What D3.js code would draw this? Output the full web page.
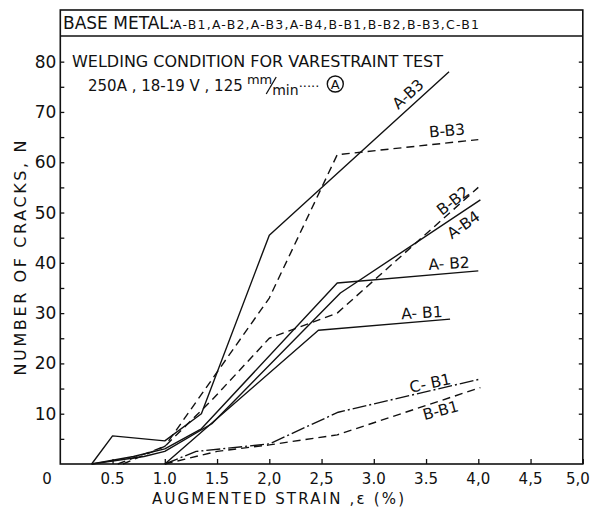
<!DOCTYPE html>
<html><head><meta charset="utf-8">
<script src="https://cdn.jsdelivr.net/npm/d3@7"></script>
<style>
  body { margin: 0; background: #fff; }
  text { font-family: "DejaVu Sans", sans-serif; fill: #111; }
</style>
</head><body>
<svg id="chart" width="594" height="510"></svg>
<script>
// Varestraint test: number of cracks vs augmented strain, one polyline per base metal.
const baseMetals = ["A-B1", "A-B2", "A-B3", "A-B4", "B-B1", "B-B2", "B-B3", "C-B1"];

// [augmented strain (%), number of cracks]
const A_B1 = [[1.0, 0], [2.47, 26.6], [3.73, 28.8]];
const A_B2 = [[0.3, 0], [0.7, 1.5], [1.0, 3], [1.35, 7], [2.65, 36], [4.0, 38.4]];
const A_B3 = [[0.3, 0], [0.5, 5.6], [1.0, 4.6], [1.35, 10], [2.0, 45.5], [3.72, 78]];
const A_B4 = [[0.3, 0], [0.8, 1.5], [1.0, 2.5], [1.45, 8], [2.68, 34], [4.02, 52.5]];
const B_B1 = [[1.0, 0], [1.5, 2.5], [2.0, 3.8], [2.65, 5.8], [4.02, 15.2]];
const B_B2 = [[0.55, 0], [1.0, 3.5], [1.45, 12.7], [2.0, 25], [2.65, 30], [4.0, 55]];
const B_B3 = [[0.6, 0], [1.0, 3.5], [2.0, 33], [2.65, 61.5], [4.0, 64.5]];
const C_B1 = [[1.0, 0], [1.3, 2.5], [2.0, 4], [2.66, 10.3], [4.02, 16.9]];

const xTickValues = [0.5, 1.0, 1.5, 2.0, 2.5, 3.0, 3.5, 4.0, 4.5, 5.0];
const xTickLabels = ["0.5", "1.0", "1.5", "2,0", "2,5", "3.0", "3.5", "4,0", "4,5", "5,0"];
const yTickValues = [10, 20, 30, 40, 50, 60, 70, 80];
const yTickLabels = ["10", "20", "30", "40", "50", "60", "70", "80"];

const seriesData = {
  "A-B1": A_B1, "A-B2": A_B2, "A-B3": A_B3, "A-B4": A_B4,
  "B-B1": B_B1, "B-B2": B_B2, "B-B3": B_B3, "C-B1": C_B1
};

// line style per base metal
const dashFor = {
  "A-B1": null, "A-B2": null, "A-B3": null, "A-B4": null,
  "B-B1": "8,5", "B-B2": "8,5", "B-B3": "8,5",
  "C-B1": "14,3,2,3"
};

// curve labels: anchor in data units, rotation in degrees
const curveLabels = [
  { text: "A-B3", x: 3.33, y: 73.5, angle: -42 },
  { text: "B-B3", x: 3.70, y: 66.2, angle: -5 },
  { text: "B-B2", x: 3.76, y: 52.3, angle: -38 },
  { text: "A-B4", x: 3.86, y: 47.5, angle: -35 },
  { text: "A- B2", x: 3.72, y: 39.8, angle: -3 },
  { text: "A- B1", x: 3.46, y: 30.0, angle: -3 },
  { text: "C- B1", x: 3.54, y: 16.0, angle: -12 },
  { text: "B-B1", x: 3.64, y: 10.6, angle: -15 }
];

const svg = d3.select("#chart");
const plotLeft = 60.3, plotRight = 582.8, plotTop = 36, plotBottom = 464, headTop = 10;

const x = d3.scaleLinear().domain([0, 5]).range([plotLeft, plotRight]);
const y = d3.scaleLinear().domain([0, 85.1]).range([plotBottom, plotTop]);

// header box and plot frame
const frame = svg.append("g").attr("fill", "none").attr("stroke", "#111").attr("stroke-width", 1.6);
frame.append("rect").attr("x", plotLeft).attr("y", headTop)
  .attr("width", plotRight - plotLeft).attr("height", plotBottom - headTop);
frame.append("line").attr("x1", plotLeft).attr("x2", plotRight).attr("y1", plotTop).attr("y2", plotTop);

// axes with inward ticks
const yAxisL = d3.axisRight(y).tickValues(d3.range(5, 85, 5)).tickSize(4).tickFormat("");
const yAxisR = d3.axisLeft(y).tickValues(d3.range(5, 85, 5)).tickSize(4).tickFormat("");
const xAxisB = d3.axisTop(x).tickValues(xTickValues).tickSize(5).tickFormat("");
[
  svg.append("g").attr("transform", `translate(${plotLeft},0)`).call(yAxisL),
  svg.append("g").attr("transform", `translate(${plotRight},0)`).call(yAxisR),
  svg.append("g").attr("transform", `translate(0,${plotBottom})`).call(xAxisB)
].forEach(g => {
  g.select(".domain").remove();
  g.selectAll(".tick line").attr("stroke", "#111").attr("stroke-width", 1.3);
});

// tick labels
svg.append("g").selectAll("text").data(yTickValues).join("text")
  .attr("x", plotLeft - 4).attr("y", d => y(d) + 6)
  .attr("text-anchor", "end").attr("font-size", 17)
  .text((d, i) => yTickLabels[i]);

svg.append("g").selectAll("text").data(xTickValues).join("text")
  .attr("x", d => Math.min(x(d), 578)).attr("y", 484)
  .attr("text-anchor", "middle").attr("font-size", 15)
  .text((d, i) => xTickLabels[i]);
svg.append("text").attr("x", 47).attr("y", 484).attr("text-anchor", "middle")
  .attr("font-size", 15).text("0");

// axis titles
svg.append("text").attr("x", 152).attr("y", 504).attr("font-size", 15)
  .attr("textLength", 252).attr("lengthAdjust", "spacing")
  .text("AUGMENTED  STRAIN ,ε  (%)");
svg.append("text").attr("transform", `translate(26,258) rotate(-90)`)
  .attr("text-anchor", "middle").attr("font-size", 16)
  .attr("textLength", 235).attr("lengthAdjust", "spacing")
  .text("NUMBER OF CRACKS, N");

// header texts
svg.append("text").attr("x", 63).attr("y", 29).attr("font-size", 17).text("BASE METAL:");
svg.append("text").attr("x", 173).attr("y", 29).attr("font-size", 12.5)
  .attr("textLength", 306).attr("lengthAdjust", "spacing")
  .text(baseMetals.join(","));

svg.append("text").attr("x", 72).attr("y", 67).attr("font-size", 16)
  .text("WELDING  CONDITION  FOR  VARESTRAINT  TEST");

const cond = svg.append("text").attr("x", 88).attr("y", 91).attr("font-size", 15);
cond.append("tspan").text("250A , 18-19 V , 125");
const mm = cond.append("tspan").attr("dy", -7).attr("font-size", 13).text(" mm");
cond.append("tspan").attr("dy", 11).attr("font-size", 14).text("min");
cond.append("tspan").attr("dy", -4).attr("font-size", 13).text("·····");

// slash joining mm and min
const mmEnd = mm.node().getEndPositionOfChar(2).x;
svg.append("line").attr("x1", mmEnd - 6).attr("y1", 94).attr("x2", mmEnd + 4).attr("y2", 77)
  .attr("stroke", "#111").attr("stroke-width", 1.3);

// curves
const line = d3.line().x(d => x(d[0])).y(d => y(d[1]));
svg.append("g").selectAll("path").data(baseMetals).join("path")
  .attr("d", k => line(seriesData[k]))
  .attr("fill", "none").attr("stroke", "#111").attr("stroke-width", 1.4)
  .attr("stroke-linejoin", "round")
  .attr("stroke-dasharray", k => dashFor[k]);

// curve labels
svg.append("g").selectAll("text").data(curveLabels).join("text")
  .attr("transform", d => `translate(${x(d.x)},${y(d.y)}) rotate(${d.angle})`)
  .attr("text-anchor", "middle").attr("dy", 5).attr("font-size", 15.5)
  .text(d => d.text);

// circled marker after the welding speed
const condBox = cond.node().getBBox();
const cx = condBox.x + condBox.width + 16;
svg.append("circle").attr("cx", cx).attr("cy", 84).attr("r", 8)
  .attr("fill", "none").attr("stroke", "#111").attr("stroke-width", 1.4);
svg.append("text").attr("x", cx).attr("y", 89)
  .attr("text-anchor", "middle").attr("font-size", 13).text("A");
</script>
</body></html>
